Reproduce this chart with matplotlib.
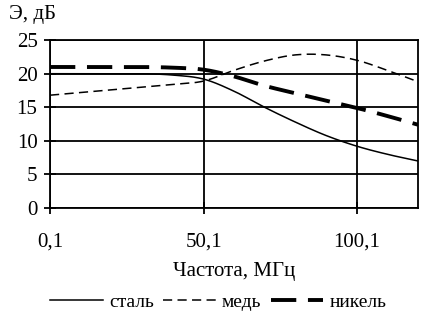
import numpy as np
import matplotlib
matplotlib.use('Agg')
import matplotlib.pyplot as plt

plt.rcParams['font.family'] = ['Liberation Serif', 'DejaVu Serif']

freq = [0.1, 10, 20, 30, 40, 50.1, 60, 70, 80, 90, 100.1, 110, 120]
steel = [20.0, 20.0, 20.0, 20.0, 19.8, 19.2, 17.4, 15.0, 12.8, 10.8, 9.2, 8.0, 7.0]
copper = [16.8, 17.2, 17.6, 18.0, 18.4, 18.9, 20.5, 21.9, 22.8, 22.8, 22.0, 20.5, 18.8]
nickel = [21.0, 21.0, 21.0, 21.0, 20.9, 20.6, 19.6, 18.2, 17.1, 16.0, 14.9, 13.7, 12.4]
labels = ['сталь', 'медь', 'никель']
xticks = [0.1, 50.1, 100.1]
xticklabels = ['0,1', '50,1', '100,1']


def smooth(x, y):
    # Catmull-Rom smoothing, like the smoothed lines of a spreadsheet chart
    x = np.asarray(x, float)
    y = np.asarray(y, float)
    px = np.concatenate([[2 * x[0] - x[1]], x, [2 * x[-1] - x[-2]]])
    py = np.concatenate([[2 * y[0] - y[1]], y, [2 * y[-1] - y[-2]]])
    xs, ys = [], []
    for i in range(1, len(px) - 2):
        t = np.linspace(0, 1, 25, endpoint=False)
        for arr, out in ((px, xs), (py, ys)):
            p0, p1, p2, p3 = arr[i - 1], arr[i], arr[i + 1], arr[i + 2]
            out.extend(0.5 * ((2 * p1) + (-p0 + p2) * t
                              + (2 * p0 - 5 * p1 + 4 * p2 - p3) * t ** 2
                              + (-p0 + 3 * p1 - 3 * p2 + p3) * t ** 3))
    xs.append(x[-1])
    ys.append(y[-1])
    return np.array(xs), np.array(ys)


fig = plt.figure(figsize=(4.24, 3.21), dpi=100)
ax = fig.add_axes([0.118, 0.352, 0.868, 0.523])

sx, sy = smooth(freq, steel)
ax.plot(sx, sy, color='k', lw=1.1, label=labels[0], zorder=3)
cx, cy = smooth(freq, copper)
ax.plot(cx, cy, color='k', lw=1.1, ls=(0, (6, 3.5)), label=labels[1], zorder=3)
nx, ny = smooth(freq, nickel)
ax.plot(nx, ny, color='k', lw=2.8, ls=(0, (6.5, 3)), label=labels[2], zorder=3)

ax.set_xlim(0.1, 120)
ax.set_ylim(0, 25)
ax.set_yticks([0, 5, 10, 15, 20, 25])
ax.set_xticks(xticks)
ax.set_xticklabels(xticklabels)
ax.grid(True, color='k', lw=1.3, zorder=1)
for s in ax.spines.values():
    s.set_linewidth(1.3)
ax.tick_params(axis='both', direction='inout', length=8, width=1.3,
               labelsize=15, colors='k')
ax.tick_params(axis='x', pad=14)
ax.tick_params(axis='y', pad=5)

ax.set_xlabel('Частота, МГц', fontsize=15, labelpad=7)
fig.text(0.022, 0.955, 'Э, дБ', fontsize=15, va='center', ha='left')

fig.legend(loc='center', bbox_to_anchor=(0.515, 0.058), ncol=3, frameon=False,
           fontsize=14, handlelength=2.7, columnspacing=0.5, handletextpad=0.3)

fig.savefig('out.png', dpi=100)
